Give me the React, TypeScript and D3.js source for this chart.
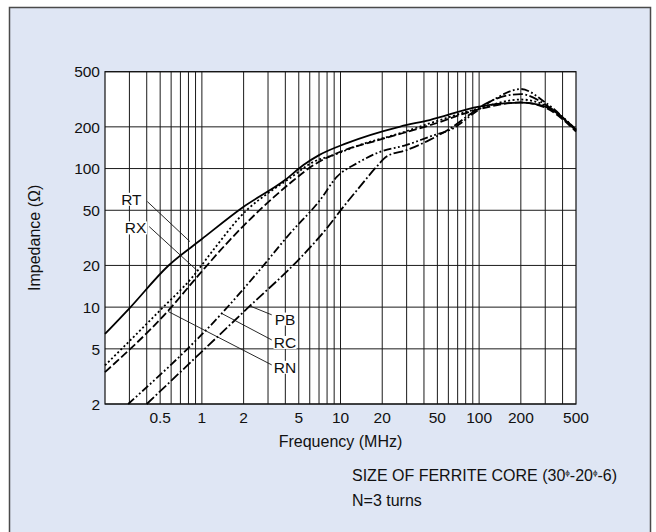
import React from 'react';
import * as d3 from 'd3';

// axis ticks
const xTicks = [0.5, 1, 2, 5, 10, 20, 50, 100, 200, 500];
const yTicks = [2, 5, 10, 20, 50, 100, 200, 500];

// impedance curves (MHz, ohm)
const rtFreq = [0.2, 0.3, 0.57, 1, 2, 4, 5.4, 7, 11, 27, 44, 100, 200, 300, 500];
const rtZ = [6.4, 9.8, 19.8, 31, 53, 83, 106, 125, 152, 201, 224, 280, 299, 280, 188];

const rxFreq = [0.2, 0.5, 0.86, 1.21, 2.1, 3.1, 4.3, 6.4, 8.9, 13.8, 27, 44, 100, 200, 300, 500];
const rxZ = [3.8, 9.5, 16.6, 25.9, 50, 68, 85, 112, 125, 148, 180, 212, 272, 315, 285, 190];

const rnFreq = [0.2, 0.57, 0.97, 1.59, 2.77, 4.3, 6.4, 9.4, 19, 44, 100, 200, 300, 500];
const rnZ = [3.4, 9.4, 17.5, 30.5, 53, 78, 106, 129, 161, 205, 268, 300, 275, 185];

const rcFreq = [0.294, 1.39, 2.49, 4.32, 7.1, 9.4, 13.1, 19.3, 30, 44, 65, 91, 126, 200, 300, 500];
const rcZ = [2.0, 9.0, 17.5, 34, 59, 87, 109, 132, 148, 170, 195, 250, 312, 375, 300, 190];

const pbFreq = [0.4, 2.22, 5.1, 7.95, 10.5, 13.8, 18.2, 21.5, 30, 44, 65, 81.5, 113, 200, 300, 500];
const pbZ = [2.0, 10.2, 22.5, 37, 53, 74, 103, 122, 136, 161, 201, 237, 296, 345, 290, 192];

const seriesNames = ['RT', 'RX', 'RN', 'RC', 'PB'];
const seriesFreq = [rtFreq, rxFreq, rnFreq, rcFreq, pbFreq];
const seriesZ = [rtZ, rxZ, rnZ, rcZ, pbZ];
const seriesDash = ['none', '2,2.4', '8,3', '8,2.5,1.8,2.5,1.8,2.5', '10,2.5,1.8,2.5'];

// label position (freq, Z), leader start, leader end
const labelAt = [[0.31, 60], [0.332, 37.3], [3.98, 3.68], [3.98, 5.56], [3.98, 8.2]];
const leaderFrom = [[0.404, 57.8], [0.417, 38.1], [3.19, 3.83], [3.19, 5.8], [3.19, 8.8]];
const leaderTo = [[0.82, 29.7], [0.917, 18.5], [0.572, 9.3], [1.39, 9.0], [2.22, 10.2]];

const font = '"Liberation Sans", Arial, sans-serif';

const App = () => {
    const margin = {top: 71.7, left: 105, right: 576, bottom: 404};

    const x = d3.scaleLog().domain([0.2, 500]).range([margin.left, margin.right]);
    const y = d3.scaleLog().domain([2, 500]).range([margin.bottom, margin.top]);

    // minor grid: 1..9 of each decade inside the domain
    const vGrid: number[] = [];
    [0.1, 1, 10, 100].forEach(dec => {
        for (let k = 1; k <= 9; k++) {
            const v = +(dec * k).toPrecision(3);
            if (v > 0.2 && v < 500) vGrid.push(v);
        }
    });

    const line = d3.line<[number, number]>()
        .x(d => x(d[0]))
        .y(d => y(d[1]))
        .curve(d3.curveMonotoneX);

    return (
        <svg width={656} height={532} style={{position: 'absolute', left: 0, top: 0}}
             fontFamily={font}>
            <rect x={9.5} y={7.5} width={641} height={540} fill="#dfe6f4" stroke="#4a4a4a" strokeWidth={1.5}/>

            <rect x={margin.left} y={margin.top} width={margin.right - margin.left}
                  height={margin.bottom - margin.top} fill="#fff"/>

            <g stroke="#1a1a1a" strokeWidth={1}>
                {vGrid.map(v => (
                    <line key={'v' + v} x1={x(v)} x2={x(v)} y1={margin.top} y2={margin.bottom}/>
                ))}
                {yTicks.map(v => (
                    <line key={'h' + v} x1={margin.left} x2={margin.right} y1={y(v)} y2={y(v)}/>
                ))}
            </g>
            <rect x={margin.left} y={margin.top} width={margin.right - margin.left}
                  height={margin.bottom - margin.top} fill="none" stroke="#111" strokeWidth={1.2}/>

            <g fill="none" stroke="#000" strokeWidth={1.8}>
                {seriesNames.map((name, i) => (
                    <path key={name}
                          d={line(seriesFreq[i].map((f, j) => [f, seriesZ[i][j]] as [number, number])) || ''}
                          strokeDasharray={seriesDash[i]}/>
                ))}
            </g>

            <g stroke="#111" strokeWidth={0.9}>
                {seriesNames.map((name, i) => (
                    <line key={'l' + name}
                          x1={x(leaderFrom[i][0])} y1={y(leaderFrom[i][1])}
                          x2={x(leaderTo[i][0])} y2={y(leaderTo[i][1])}/>
                ))}
            </g>
            {seriesNames.map((name, i) => {
                const cx = x(labelAt[i][0]);
                const cy = y(labelAt[i][1]);
                return (
                    <g key={'t' + name}>
                        <rect x={cx - 11.5} y={cy - 6.5} width={23} height={13} fill="#fff"/>
                        <text x={cx} y={cy + 5.5} textAnchor="middle" fontSize={15.5} fill="#111">{name}</text>
                    </g>
                );
            })}

            <g fontSize={15.5} fill="#111">
                {yTicks.map(v => (
                    <text key={'yt' + v} x={margin.left - 5} y={y(v) + 5.7} textAnchor="end">{v}</text>
                ))}
                {xTicks.map(v => (
                    <text key={'xt' + v} x={x(v)} y={423} textAnchor="middle">{v}</text>
                ))}
            </g>
            <g fontSize={16} fill="#111">
                <text x={(margin.left + margin.right) / 2} y={447} textAnchor="middle">Frequency (MHz)</text>
                <text transform={`translate(40,${(margin.top + margin.bottom) / 2}) rotate(-90)`}
                      textAnchor="middle">Impedance (Ω)</text>
                <text x={352} y={481}>SIZE OF FERRITE CORE (30<tspan fontSize={8} dy={-6}>ϕ</tspan><tspan dy={6}>-20</tspan><tspan fontSize={8} dy={-6}>ϕ</tspan><tspan dy={6}>-6)</tspan></text>
                <text x={352} y={506}>N=3 turns</text>
            </g>
        </svg>
    );
};

export default App;
